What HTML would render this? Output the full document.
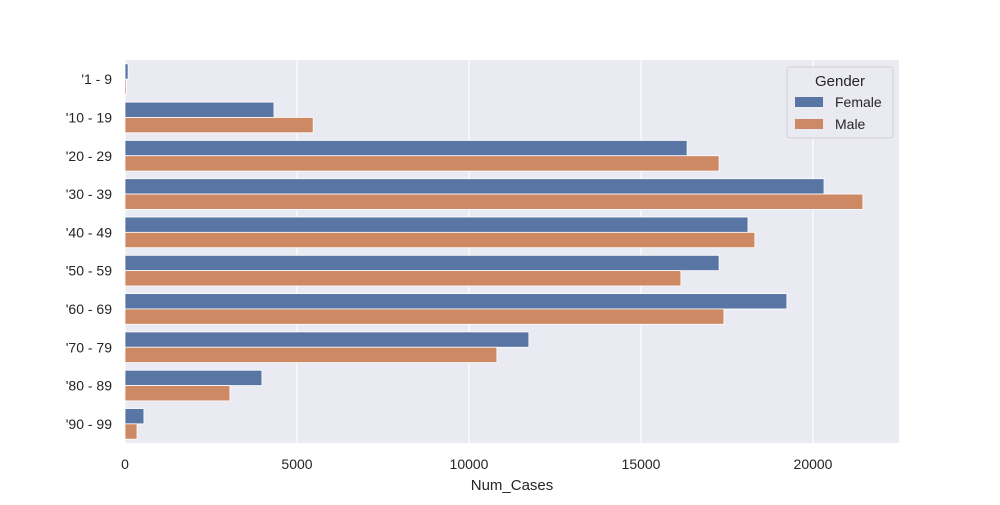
<!DOCTYPE html>
<html><head><meta charset="utf-8"><style>
body{margin:0;background:#fff;}
svg text{font-family:"Liberation Sans","DejaVu Sans",sans-serif;fill:#262626;}
</style></head><body>
<svg id="chart" width="1000" height="500">
<rect x="125" y="60" width="774" height="383" fill="#eaeaf2"/>
<g id="grid"></g><g id="bars"></g><g id="ticks"></g>
<text x="512" y="490" text-anchor="middle" font-size="15">Num_Cases</text>
<g>
<rect x="787" y="67" width="106" height="71" rx="3" fill="#eaeaf2" stroke="#cccccc" stroke-width="1" opacity="0.8"/>
<text x="840" y="86" text-anchor="middle" font-size="15">Gender</text>
<rect x="795" y="97" width="28" height="10" fill="#5875a4"/>
<text x="835" y="107" font-size="14">Female</text>
<rect x="795" y="119" width="28" height="10" fill="#cc8963"/>
<text x="835" y="129" font-size="14">Male</text>
</g>
</svg>
<script>
const categories=["'1 - 9","'10 - 19","'20 - 29","'30 - 39","'40 - 49","'50 - 59","'60 - 69","'70 - 79","'80 - 89","'90 - 99"];
const female=[90,4330,16340,20320,18110,17270,19240,11740,3980,550];
const male=[40,5470,17270,21450,18310,16160,17410,10810,3050,350];
const xTicks=[0,5000,10000,15000,20000];
const NS="http://www.w3.org/2000/svg";
const x0=125,x1=899,xMax=22500,y0=60,y1=443;
const xs=v=>x0+v/xMax*(x1-x0);
const step=(y1-y0)/categories.length;
const yc=i=>y0+step*(i+0.5);
function mk(t,a,p){const e=document.createElementNS(NS,t);for(const k in a)e.setAttribute(k,a[k]);p.appendChild(e);return e;}
const grid=document.getElementById('grid'),bars=document.getElementById('bars'),ticks=document.getElementById('ticks');
xTicks.forEach(v=>{
 const l=mk('line',{x1:xs(v),x2:xs(v),y1:y0,y2:y1,stroke:'#fff','stroke-width':1.2},grid);
 
 
 const t=mk('text',{x:xs(v),y:y1+26,'text-anchor':'middle','font-size':14},ticks);
 t.textContent=v;
 
 
});
const bh=step*0.4;
categories.forEach((c,i)=>{
 const f=mk('rect',{x:x0,y:yc(i)-bh,width:xs(female[i])-x0,height:bh,fill:'#5875a4',stroke:'#fff','stroke-width':0.8},bars);
 
 
 const m=mk('rect',{x:x0,y:yc(i),width:xs(male[i])-x0,height:bh,fill:'#cc8963',stroke:'#fff','stroke-width':0.8},bars);
 
 
 const t=mk('text',{x:x0-13,y:yc(i)+5,'text-anchor':'end','font-size':14},ticks);
 t.textContent=c;
 
 
});
</script>
</body></html>
